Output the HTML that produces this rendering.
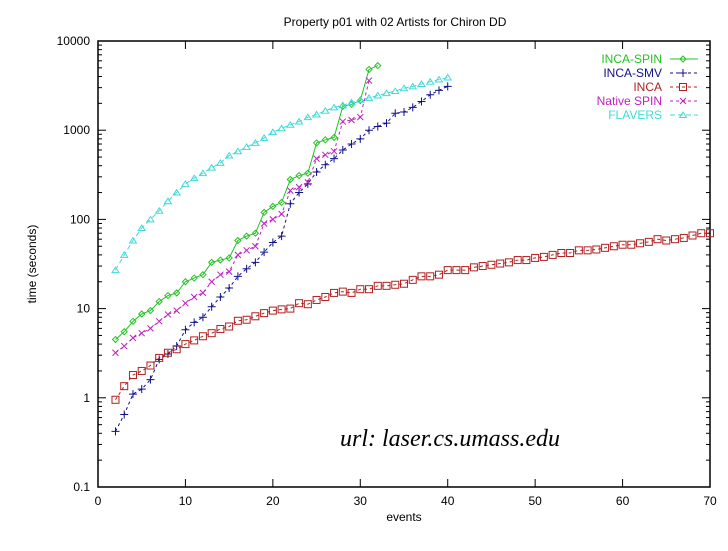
<!DOCTYPE html>
<html><head><meta charset="utf-8"><style>
body{margin:0;background:#fff;width:728px;height:546px;overflow:hidden}
svg text{font-family:"Liberation Sans",sans-serif;font-size:12px}
</style></head><body>
<svg id="chart" width="728" height="546" xmlns="http://www.w3.org/2000/svg"></svg>
<script>
const yTicks=[0.1,1,10,100,1000,10000];
const yTickLabels=["0.1","1","10","100","1000","10000"];
const xTicks=[0,10,20,30,40,50,60,70];
const seriesNames=["INCA-SPIN","INCA-SMV","INCA","Native SPIN","FLAVERS"];
const incaSpin=[4.5,5.5,7.2,8.7,9.5,12,14,15,20,22,24,33,35,37,58,65,70,120,140,155,280,310,330,720,780,830,1850,1950,2150,4800,5300];
const incaSmv=[0.42,0.65,1.1,1.25,1.6,2.7,3.1,3.8,5.8,7,8,10.5,13.5,17,23,28,33,43,55,65,150,200,250,340,410,480,600,700,800,1000,1100,1200,1550,1600,1800,2100,2500,2800,3100];
const inca=[0.95,1.35,1.8,2.0,2.3,2.8,3.2,3.5,4.0,4.4,4.9,5.3,5.9,6.3,7.3,7.5,8.2,8.9,9.5,9.8,10,11.5,11.2,12.5,13.5,15,15.5,15,16.5,16.5,18,18,18.5,19,21,23,23,24,27,27,27,29,30,31,32,33,35,35,37,38,40,42,42,45,45,46,48,50,52,52,54,56,60,58,60,62,66,70,70];
const nativeSpin=[3.2,3.8,4.7,5.3,6,7.2,8.6,9.5,11.5,13.5,15,20,24,26,40,45,50,90,100,115,210,230,260,480,530,580,1250,1300,1400,3600];
const flavers=[27,40,58,80,100,125,160,200,250,290,330,380,430,520,580,650,720,820,950,1050,1150,1250,1400,1500,1650,1800,1900,2050,2200,2300,2450,2600,2750,2950,3100,3300,3500,3700,3900];
const xStart=2;
const L=98,R=710,T=41,B=487;
const X=v=>L+(v-0)/70*(R-L);
const Y=v=>B-(Math.log10(v)+1)/5*(B-T);
const svg=document.getElementById('chart');
const NS="http://www.w3.org/2000/svg";
function mk(tag,attrs,parent){const e=document.createElementNS(NS,tag);for(const k in attrs)e.setAttribute(k,attrs[k]);(parent||svg).appendChild(e);return e;}
function txt(s,x,y,anchor,name,extra){const t=mk('text',Object.assign({x:x,y:y,'text-anchor':anchor},extra||{}));t.textContent=s;return t;}
const frame=mk('rect',{x:L,y:T,width:R-L,height:B-T,fill:'none',stroke:'#000','stroke-width':1.5});

const ticks=mk('g',{stroke:'#000','stroke-width':1});

yTicks.forEach((v,i)=>{const y=Y(v);mk('line',{x1:L,x2:L+8,y1:y,y2:y},ticks);mk('line',{x1:R,x2:R-8,y1:y,y2:y},ticks);
 txt(yTickLabels[i],L-8,y+4,'end','y-tick-label');
 if(i<yTicks.length-1){for(let m=2;m<10;m++){const ym=Y(v*m);mk('line',{x1:L,x2:L+4,y1:ym,y2:ym},ticks);mk('line',{x1:R,x2:R-4,y1:ym,y2:ym},ticks);}}});
xTicks.forEach(v=>{const x=X(v);mk('line',{x1:x,x2:x,y1:B,y2:B-8},ticks);mk('line',{x1:x,x2:x,y1:T,y2:T+8},ticks);txt(String(v),x,B+18,'middle','x-tick-label');});
txt("Property p01 with 02 Artists for Chiron DD",395,26,'middle','chart-title');
txt("events",404,521,'middle','x-axis-title');
txt("time (seconds)",36,264,'middle','y-axis-title',{transform:'rotate(-90 36 264)'});
txt("url: laser.cs.umass.edu",340,446,'start','url-annotation',{style:'font-family:"Liberation Serif",serif;font-style:italic;font-size:24px'});
const colors=['#22c322','#10108a','#b02020','#c020c0','#40dada'];
const dashes=['none','3,3','3,3','3,3','5,3'];
const datas=[incaSpin,incaSmv,inca,nativeSpin,flavers];
function marker(kind,x,y,c,g){
 if(kind==0)mk('path',{d:`M${x-3} ${y}L${x} ${y-3}L${x+3} ${y}L${x} ${y+3}Z`,fill:'none',stroke:c},g);
 else if(kind==1){mk('path',{d:`M${x-4} ${y}H${x+4}M${x} ${y-4}V${y+4}`,stroke:c},g);}
 else if(kind==2){mk('rect',{x:x-3.5,y:y-3.5,width:7,height:7,fill:'none',stroke:c},g);}
 else if(kind==3){mk('path',{d:`M${x-3} ${y-3}L${x+3} ${y+3}M${x+3} ${y-3}L${x-3} ${y+3}`,stroke:c},g);}
 else mk('path',{d:`M${x-3.5} ${y+2.5}L${x} ${y-3}L${x+3.5} ${y+2.5}Z`,fill:'none',stroke:c},g);
}
datas.forEach((d,s)=>{
 const g=mk('g',{});
 
 
 const pts=d.map((v,i)=>[X(xStart+i),Y(v)]);
 mk('polyline',{points:pts.map(p=>p.join(',')).join(' '),fill:'none',stroke:colors[s],'stroke-width':1,'stroke-dasharray':dashes[s]},g);
 pts.forEach(p=>marker(s,p[0],p[1],colors[s],g));
 const ly=59+s*14;
 txt(seriesNames[s],662,ly+4,'end','legend-label-'+s,{fill:colors[s]});
 mk('line',{x1:670,x2:698,y1:ly,y2:ly,stroke:colors[s],'stroke-dasharray':dashes[s]},g);
 marker(s,683,ly,colors[s],g);
});
</script>
</body></html>
